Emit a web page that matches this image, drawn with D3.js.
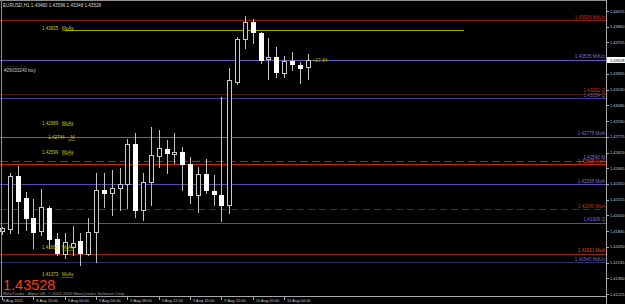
<!DOCTYPE html>
<html>
<head>
<meta charset="utf-8">
<script src="https://cdn.jsdelivr.net/npm/d3@7"></script>
<style>
html, body { margin: 0; padding: 0; background: #000; }
svg { display: block; font-family: "Liberation Sans", Arial, sans-serif; }
</style>
</head>
<body>
<svg id="chart" width="625" height="304"></svg>
<script>
// EURUSD H1 bars, 8 Aug 2011 16:00 .. 10 Aug 2011 07:00
const opens = [1.41846, 1.41865, 1.42388, 1.42171, 1.41974, 1.41846, 1.42072, 1.41767, 1.41619, 1.41688,
	1.41747, 1.41619, 1.41836, 1.42250, 1.42220, 1.42270, 1.42309, 1.42703, 1.42053, 1.42329,
	1.42585, 1.42654, 1.42605, 1.42624, 1.42506, 1.42200, 1.42407, 1.42240, 1.42200, 1.42102,
	1.43315, 1.43739, 1.43907, 1.43798, 1.43542, 1.43561, 1.43404, 1.43522, 1.43482, 1.43460];
const highs = [1.41885, 1.42417, 1.42486, 1.42230, 1.42161, 1.42260, 1.42092, 1.41826, 1.41826, 1.41895,
	1.41826, 1.41974, 1.42417, 1.42417, 1.42447, 1.42467, 1.42753, 1.42812, 1.42417, 1.42871,
	1.42841, 1.42743, 1.42812, 1.42674, 1.42575, 1.42476, 1.42555, 1.42398, 1.43167, 1.43453,
	1.43759, 1.43966, 1.43936, 1.43808, 1.43749, 1.43660, 1.43571, 1.43611, 1.43512, 1.43596];
const lows = [1.41816, 1.41826, 1.41826, 1.41856, 1.41678, 1.41806, 1.41678, 1.41609, 1.41579, 1.41609,
	1.41510, 1.41609, 1.41540, 1.42082, 1.42003, 1.42053, 1.42072, 1.41984, 1.41954, 1.42102,
	1.42476, 1.42417, 1.42516, 1.42250, 1.42122, 1.42033, 1.42220, 1.42102, 1.41944, 1.42023,
	1.43295, 1.43650, 1.43699, 1.43502, 1.43344, 1.43364, 1.43364, 1.43433, 1.43305, 1.43348];
const closes = [1.41875, 1.42388, 1.42146, 1.41974, 1.41836, 1.42082, 1.41767, 1.41629, 1.41737, 1.41727,
	1.41629, 1.41836, 1.42250, 1.42220, 1.42270, 1.42309, 1.42703, 1.42053, 1.42329, 1.42595,
	1.42664, 1.42615, 1.42624, 1.42506, 1.42200, 1.42407, 1.42250, 1.42210, 1.42102, 1.43335,
	1.43739, 1.43907, 1.43808, 1.43532, 1.43561, 1.43413, 1.43522, 1.43492, 1.43453, 1.43528];

// time axis (bar index -> label)
const timeTickBars = [0, 4, 8, 12, 16, 20, 24, 28, 32, 36];
const timeLabels = ["8 Aug 2011", "8 Aug 20:00", "9 Aug 00:00", "9 Aug 04:00", "9 Aug 08:00",
	"9 Aug 12:00", "9 Aug 16:00", "9 Aug 20:00", "10 Aug 00:00", "10 Aug 04:00"];

// price axis labels
const priceTicks = [1.44015, 1.43860, 1.43705, 1.43550, 1.43395, 1.43240, 1.43085, 1.42930, 1.42775,
	1.42620, 1.42465, 1.42310, 1.42155, 1.42000, 1.41845, 1.41690, 1.41535, 1.41380, 1.41225];

// horizontal levels on the right
const levelPrices = [1.43926, 1.43535, 1.43201, 1.43154, 1.42775, 1.42540, 1.42505, 1.42305, 1.42060, 1.41926, 1.41621, 1.41540];
const levelTags = ["MoUp", "MdUp", "Q", "Q", "MoA", "M", "MoA", "MoA", "MoA", "Q", "MoA", "MdUp"];

// yellow text objects on the left
const noteValues = ["1.43825", "1.42989", "1.42744", "1.42599", "1.41660", "1.41373"];
const noteTags = ["MoAs", "MoAs", "_M", "MoAs", "MoAs", "MoAs"];
const noteAnchors = [1.43847, 1.42911, 1.42768, 1.42624, 1.41683, 1.41415];

const symbol = "EURUSD,H1";
const lastPrice = 1.43528;
const trendPrice = 1.43825;
const orderText = "#29033240 buy";
const orderPrice = 1.43433;
const profitText = "+17.64";

// look of the levels (kept apart from the data)
const levelStyle = [
	{ line: "#8c1c10", text: "#c8341c" },
	{ line: "#6a5cb8", text: "#7c6ed4" },
	{ line: "#501408", text: "#c8401c" },
	{ line: "#453a92", text: "#6a5cc8" },
	{ line: "#6a5cb8", text: "#7c6ed4" },
	{ line: "#3c3ca8", text: "#7070d8", dash: "8,4" },
	{ line: "#c42810", text: "#e8441e" },
	{ line: "#5a4ea8", text: "#7c6ed4" },
	{ line: "#7c1c0c", text: "#c03418", dash: "7,4" },
	{ line: "#5a4ea8", text: "#7c6ed4" },
	{ line: "#a42010", text: "#e8441e" },
	{ line: "#2a2a66", text: "#6a6ad0" },
];

const svg = d3.select("#chart");
const plotRight = 606;
const plotBottom = 296;
const snap = (v) => Math.round(v) + 0.5;

const x = d3.scaleLinear().domain([0, 39]).range([2, 307.5]);
const y = d3.scaleLinear().domain([1.41225, 1.44015]).range([294, 11]);

svg.append("rect").attr("width", 625).attr("height", 304).attr("fill", "#000");

const plot = svg.append("g").attr("shape-rendering", "crispEdges");

// levels
plot.selectAll("line.level")
	.data(levelPrices)
	.join("line")
	.attr("class", "level")
	.attr("x1", 0)
	.attr("x2", plotRight)
	.attr("y1", (d) => snap(y(d)))
	.attr("y2", (d) => snap(y(d)))
	.attr("stroke", (d, i) => levelStyle[i].line)
	.attr("stroke-dasharray", (d, i) => levelStyle[i].dash || null);

svg.append("g")
	.selectAll("text")
	.data(levelPrices)
	.join("text")
	.attr("x", plotRight - 1)
	.attr("y", (d) => y(d) - 1.5)
	.attr("text-anchor", "end")
	.attr("font-size", 4.6)
	.attr("fill", (d, i) => levelStyle[i].text)
	.text((d, i) => d.toFixed(5) + "  " + levelTags[i]);

// yellow trend line
plot.append("line")
	.attr("x1", x(8))
	.attr("x2", x(59))
	.attr("y1", snap(y(trendPrice)))
	.attr("y2", snap(y(trendPrice)))
	.attr("stroke", "#a8a800");
plot.append("line")
	.attr("x1", x(8))
	.attr("x2", x(9.2))
	.attr("y1", 0.5)
	.attr("y2", 0.5)
	.attr("stroke", "#e0e000");

// yellow notes
const notes = svg.append("g").attr("fill", "#c8c800").attr("font-size", 4.5);
noteValues.forEach((v, i) => {
	const nx = i === 2 ? x(5.9) : x(5.1);
	notes.append("text").attr("x", nx).attr("y", y(noteAnchors[i]) + 1.6).text(v);
	notes.append("text")
		.attr("x", nx + 20)
		.attr("y", y(noteAnchors[i]) + 1.6)
		.attr("text-decoration", "underline")
		.text(noteTags[i]);
});

// order label
svg.append("text")
	.attr("x", 4)
	.attr("y", y(orderPrice) - 2.5)
	.attr("font-size", 4.6)
	.attr("fill", "#909090")
	.text("- - - - - - - -");
svg.append("text")
	.attr("x", 4)
	.attr("y", y(orderPrice) + 1.7)
	.attr("font-size", 4.6)
	.attr("fill", "#c8c8c8")
	.text(orderText);

// candles
const bars = d3.range(opens.length).map((i) => ({
	i, o: opens[i], h: highs[i], l: lows[i], c: closes[i],
}));

const candle = plot.append("g")
	.selectAll("g")
	.data(bars)
	.join("g");

candle.append("line")
	.attr("x1", (d) => snap(x(d.i)))
	.attr("x2", (d) => snap(x(d.i)))
	.attr("y1", (d) => Math.round(y(d.h)))
	.attr("y2", (d) => Math.round(y(d.l)) + 1)
	.attr("stroke", "#c0c0c0");

candle.append("rect")
	.attr("x", (d) => Math.round(x(d.i)) - 2 + 0.5)
	.attr("width", 4)
	.attr("y", (d) => Math.round(y(Math.max(d.o, d.c))) + 0.5)
	.attr("height", (d) => Math.max(1, Math.round(y(Math.min(d.o, d.c))) - Math.round(y(Math.max(d.o, d.c)))))
	.attr("fill", (d) => (d.c >= d.o ? "#000" : "#fff"))
	.attr("stroke", (d) => (d.c >= d.o ? "#c8c8c8" : "#fff"));

// profit next to the last bar
svg.append("text")
	.attr("x", x(39) + 5)
	.attr("y", y(lastPrice) + 1.5)
	.attr("font-size", 4.9)
	.attr("fill", "#b8b800")
	.text(profitText);

// frame
plot.append("line").attr("x1", 0).attr("x2", plotRight).attr("y1", 0.5).attr("y2", 0.5).attr("stroke", "#909090");
plot.append("line").attr("x1", 1.5).attr("x2", 1.5).attr("y1", 0).attr("y2", plotBottom).attr("stroke", "#909090");
plot.append("line").attr("x1", plotRight + 0.5).attr("x2", plotRight + 0.5).attr("y1", 0).attr("y2", 304).attr("stroke", "#a8a8a8");
plot.append("line").attr("x1", 0).attr("x2", plotRight).attr("y1", plotBottom + 0.5).attr("y2", plotBottom + 0.5).attr("stroke", "#a8a8a8");

// price axis (the label under the current price tag is hidden, as in MT4)
const yAxis = svg.append("g");
priceTicks.forEach((p) => {
	yAxis.append("line")
		.attr("x1", plotRight)
		.attr("x2", plotRight + 3)
		.attr("y1", snap(y(p)))
		.attr("y2", snap(y(p)))
		.attr("stroke", "#a8a8a8")
		.attr("shape-rendering", "crispEdges");
	if (Math.abs(y(p) - y(lastPrice)) < 6) return;
	yAxis.append("text")
		.attr("x", plotRight + 4)
		.attr("y", y(p) + 1.5)
		.attr("font-size", 4)
		.attr("fill", "#c8c8c8")
		.text(p.toFixed(5));
});

// current price tag
yAxis.append("rect")
	.attr("x", plotRight + 1)
	.attr("y", Math.round(y(lastPrice)) - 3)
	.attr("width", 625 - plotRight - 1)
	.attr("height", 6)
	.attr("fill", "#fff");
yAxis.append("text")
	.attr("x", plotRight + 4)
	.attr("y", y(lastPrice) + 1.5)
	.attr("font-size", 4)
	.attr("fill", "#000")
	.text(lastPrice.toFixed(5));

// time axis
const xAxis = svg.append("g");
timeTickBars.forEach((b, i) => {
	xAxis.append("line")
		.attr("x1", snap(x(b)))
		.attr("x2", snap(x(b)))
		.attr("y1", plotBottom)
		.attr("y2", plotBottom + 4)
		.attr("stroke", "#a8a8a8")
		.attr("shape-rendering", "crispEdges");
	xAxis.append("text")
		.attr("x", (i === 0 ? 3 : x(b) + 3))
		.attr("y", 302)
		.attr("font-size", 4)
		.attr("fill", "#c8c8c8")
		.text(timeLabels[i]);
});

// header, copyright, big price
svg.append("text")
	.attr("x", 3)
	.attr("y", 7)
	.attr("font-size", 4.6)
	.attr("fill", "#d8d8d8")
	.text(`${symbol}  ${opens[39].toFixed(5)} ${highs[39].toFixed(5)} ${lows[39].toFixed(5)} ${closes[39].toFixed(5)}`);

svg.append("text")
	.attr("x", 3)
	.attr("y", 290.2)
	.attr("font-size", 14.5)
	.attr("fill", "#ff3a10")
	.text(lastPrice.toFixed(5));

svg.append("text")
	.attr("x", 3)
	.attr("y", 294.8)
	.attr("font-size", 4.2)
	.attr("fill", "#9a9a9a")
	.text("MetaTrader - Alpari UK, © 2001-2009 MetaQuotes Software Corp.");
</script>
</body>
</html>
